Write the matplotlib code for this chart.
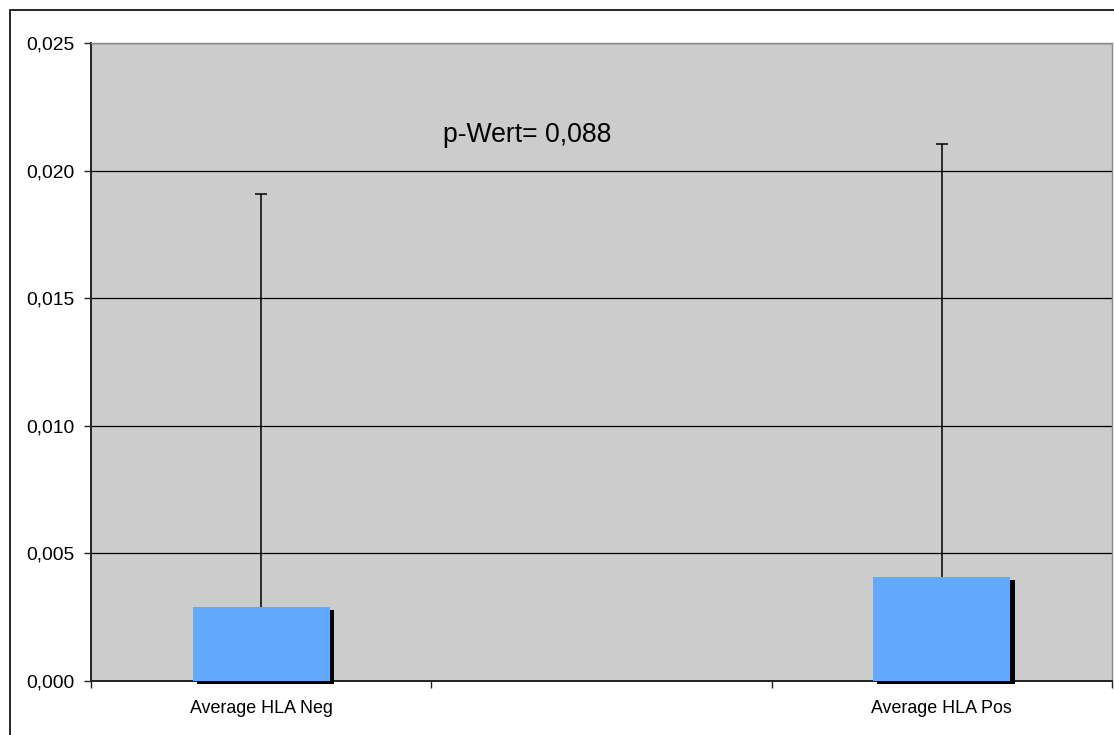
import numpy as np
import matplotlib
matplotlib.use("Agg")
import matplotlib.pyplot as plt
import matplotlib.patheffects as pe
from matplotlib.patches import Rectangle
from matplotlib.ticker import FuncFormatter, FixedLocator

plt.rcParams['font.family'] = ['Liberation Sans', 'DejaVu Sans']

# Data
categories = ["Average HLA Neg", "", "Average HLA Pos"]
means = [0.0029, np.nan, 0.00408]
std_dev = [0.01618, np.nan, 0.01696]
y_ticks = [0.000, 0.005, 0.010, 0.015, 0.020, 0.025]
p_label = "p-Wert= 0,088"

bar_color = "#63A9FF"
plot_bg = "#CCCCCC"

fig = plt.figure(figsize=(11.14, 7.35), dpi=100)
W, H = 1114, 735
ax = fig.add_axes([91 / W, 1 - 681 / H, 1021 / W, 638 / H])
ax.set_facecolor(plot_bg)

# Outer chart frame
fig.patches.append(Rectangle((10 / W, -0.05), 1.2, 1 - 10 / H + 0.05,
                             transform=fig.transFigure, fill=False,
                             edgecolor="black", linewidth=1.2, zorder=0))

x = np.arange(len(categories))
means_arr = np.array(means)
sd_arr = np.array(std_dev)

bars = ax.bar(x, means_arr, width=0.403, color=bar_color, zorder=3)
for b in bars:
    b.set_clip_on(False)
    b.set_path_effects([pe.SimplePatchShadow(offset=(3.0, -2.3), shadow_rgbFace="black", alpha=1.0),
                        pe.Normal()])

# Upper-only error bars with a cap at the top
ax.vlines(x, means_arr, means_arr + sd_arr, colors="black", linewidth=1.1, zorder=4)
ax.plot(x, means_arr + sd_arr, linestyle="none", marker="_", markersize=8.5,
        markeredgewidth=1.1, color="black", zorder=4)

ax.set_xlim(-0.5, len(categories) - 0.5)
ax.set_ylim(y_ticks[0], y_ticks[-1])
ax.yaxis.set_major_locator(FixedLocator(y_ticks))
ax.yaxis.set_major_formatter(FuncFormatter(lambda v, _: f"{v:.3f}".replace(".", ",")))
ax.grid(axis="y", color="black", linewidth=0.9, zorder=1)
ax.set_axisbelow(True)

# Category boundaries as ticks, labels centred between them
ax.set_xticks(np.arange(len(categories) + 1) - 0.5)
ax.set_xticklabels([])
ax.set_xticks(x, minor=True)
ax.set_xticklabels(categories, minor=True, fontsize=12.9)
ax.tick_params(axis="x", which="minor", length=0, pad=14)
ax.tick_params(axis="x", which="major", length=5, width=1, color="#222222", direction="out")
ax.tick_params(axis="y", length=5, width=1, color="#222222", direction="out", pad=7, labelsize=13.9)

for s in ["left", "bottom"]:
    ax.spines[s].set_color("#222222")
    ax.spines[s].set_linewidth(1.4)
for s in ["top", "right"]:
    ax.spines[s].set_color("#888888")
    ax.spines[s].set_linewidth(1.0)

ax.text(0.535, 0.02114, p_label, fontsize=19.2, ha="left", va="baseline", zorder=5)

fig.savefig("out.png", dpi=100)
